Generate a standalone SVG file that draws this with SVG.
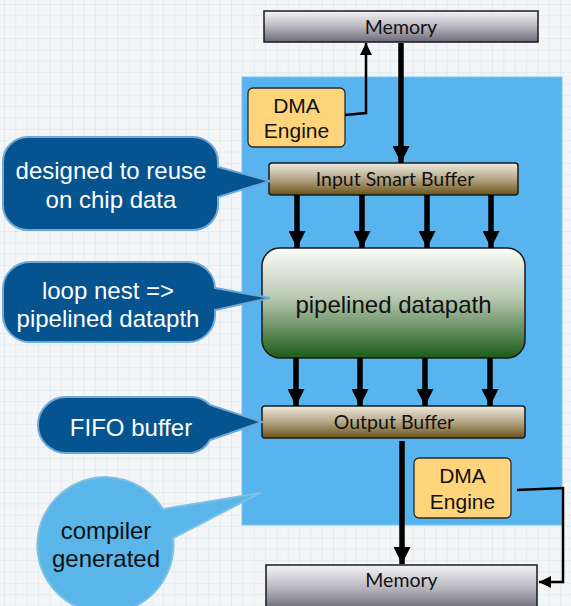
<svg xmlns="http://www.w3.org/2000/svg" width="571" height="606" viewBox="0 0 571 606">
  <defs>
    <pattern id="grid" width="11.35" height="11.35" patternUnits="userSpaceOnUse" x="4" y="4">
      <rect width="11.35" height="11.35" fill="#f4f5f6"/>
      <path d="M0 0H11.35M0 0V11.35" stroke="#cfe6ef" stroke-width="1" fill="none"/>
    </pattern>
    <linearGradient id="gMem" x1="0" y1="0" x2="0" y2="1">
      <stop offset="0" stop-color="#f4f4f6"/>
      <stop offset="0.5" stop-color="#b9b8c0"/>
      <stop offset="1" stop-color="#6b6878"/>
    </linearGradient>
    <linearGradient id="gBuf" x1="0" y1="0" x2="0" y2="1">
      <stop offset="0" stop-color="#eeebe2"/>
      <stop offset="0.5" stop-color="#b5a687"/>
      <stop offset="1" stop-color="#6a5318"/>
    </linearGradient>
    <linearGradient id="gPipe" x1="0" y1="0" x2="0" y2="1">
      <stop offset="0" stop-color="#fbfbf9"/>
      <stop offset="0.45" stop-color="#b9c9b2"/>
      <stop offset="1" stop-color="#1c5b17"/>
    </linearGradient>
    <marker id="bigHead" viewBox="0 0 10 10" refX="10" refY="5" markerWidth="19" markerHeight="17" markerUnits="userSpaceOnUse" orient="auto">
      <path d="M0 0L10 5L0 10Z" fill="#000"/>
    </marker>
    <marker id="smallHead" viewBox="0 0 10 10" refX="10" refY="5" markerWidth="12" markerHeight="12" markerUnits="userSpaceOnUse" orient="auto">
      <path d="M0 0L10 5L0 10Z" fill="#000"/>
    </marker>
  </defs>
  <style>
    .box { stroke: #1a1a1a; stroke-width: 1.5; }
    .lbl { font-family: Lato, "Liberation Sans", sans-serif; font-size: 19.5px; fill: #111; text-anchor: middle; }
    .dma { fill: #ffd57c; stroke: #2a2a2a; stroke-width: 1.3; }
    .dmaTxt { font-family: "Liberation Sans", Arial, sans-serif; font-size: 21px; fill: #111; text-anchor: middle; }
    .big { stroke: #000; stroke-width: 5.5; fill: none; marker-end: url(#bigHead); }
    .thin { stroke: #000; stroke-width: 2.5; fill: none; marker-end: url(#smallHead); }
    .callout { fill: #05538f; stroke: #6ca8d8; stroke-width: 2; }
    .calloutTxt { font-family: "Liberation Sans", Arial, sans-serif; font-size: 24px; fill: #fff; text-anchor: middle; }
    .bubble { fill: #5ab5e8; stroke: #7fc0e6; stroke-width: 2; }
    .bubbleTxt { font-family: "Liberation Sans", Arial, sans-serif; font-size: 24px; fill: #111; text-anchor: middle; }
  </style>

  <!-- graph-paper backdrop -->
  <rect width="571" height="606" fill="url(#grid)"/>

  <!-- generated accelerator region -->
  <rect id="region" x="242" y="77" width="320" height="448" fill="#58b4ee" stroke="#7cc2ef" stroke-width="1"/>

  <g id="memory-top">
    <rect class="box" x="264" y="11" width="274" height="31" fill="url(#gMem)"/>
    <text class="lbl" x="401" y="33.5">Memory</text>
  </g>

  <g id="dma-top">
    <rect class="dma" x="248" y="88" width="97" height="59" rx="5"/>
    <text class="dmaTxt" x="296.5" y="113">DMA</text>
    <text class="dmaTxt" x="296.5" y="138">Engine</text>
  </g>

  <g id="input-buffer">
    <rect class="box" x="269" y="163" width="249" height="32" rx="3" fill="url(#gBuf)"/>
    <text class="lbl" x="395" y="186">Input Smart Buffer</text>
  </g>

  <g id="datapath">
    <rect class="box" x="262" y="248" width="263" height="110" rx="18" fill="url(#gPipe)"/>
    <text x="393.5" y="313" font-family="'Liberation Sans', Arial, sans-serif" font-size="24" fill="#111" text-anchor="middle">pipelined datapath</text>
  </g>

  <g id="output-buffer">
    <rect class="box" x="262" y="406" width="263" height="32" rx="3" fill="url(#gBuf)"/>
    <text class="lbl" x="394" y="429">Output Buffer</text>
  </g>

  <g id="dma-bottom">
    <rect class="dma" x="414" y="458" width="97" height="60" rx="5"/>
    <text class="dmaTxt" x="462.5" y="483">DMA</text>
    <text class="dmaTxt" x="462.5" y="509">Engine</text>
  </g>

  <g id="memory-bottom">
    <rect class="box" x="266" y="565" width="271" height="45" fill="url(#gMem)"/>
    <text class="lbl" x="401.5" y="587">Memory</text>
  </g>

  <g id="connectors">
    <path class="thin" d="M345 115L366 113V43"/>
    <path class="big" d="M401 43V163"/>
    <path class="big" d="M297 195V248"/>
    <path class="big" d="M362 195V248"/>
    <path class="big" d="M427 195V248"/>
    <path class="big" d="M491 195V248"/>
    <path class="big" d="M296 358V406"/>
    <path class="big" d="M360 358V406"/>
    <path class="big" d="M425 358V406"/>
    <path class="big" d="M490 358V406"/>
    <path class="big" d="M402 441V564"/>
    <path class="thin" d="M517 490L563 488V582H539"/>
  </g>

  <g id="note-reuse">
    <path class="callout" d="M28 137H193A25 25 0 0 1 218 162V167L270 181L218 197V205A25 25 0 0 1 193 230H28A25 25 0 0 1 3 205V162A25 25 0 0 1 28 137Z"/>
    <text class="calloutTxt" x="111" y="179">designed to reuse</text>
    <text class="calloutTxt" x="111" y="208">on chip data</text>
  </g>

  <g id="note-loop">
    <path class="callout" d="M30 262H188A27 27 0 0 1 215 289V288L270 298L215 310V315A27 27 0 0 1 188 342H30A27 27 0 0 1 3 315V289A27 27 0 0 1 30 262Z"/>
    <text class="calloutTxt" x="108" y="299">loop nest =&gt;</text>
    <text class="calloutTxt" x="108" y="327">pipelined datapth</text>
  </g>

  <g id="note-fifo">
    <path class="callout" d="M66 397H192A26 26 0 0 1 210 405L262 422L210 440A26 26 0 0 1 192 453H66A28 28 0 0 1 66 397Z"/>
    <text class="calloutTxt" x="131" y="436">FIFO buffer</text>
  </g>

  <g id="note-compiler">
    <path class="bubble" d="M163 509L260 493L173 538A68 68 0 1 1 163 509Z"/>
    <text class="bubbleTxt" x="106" y="539">compiler</text>
    <text class="bubbleTxt" x="106" y="567">generated</text>
  </g>
</svg>
